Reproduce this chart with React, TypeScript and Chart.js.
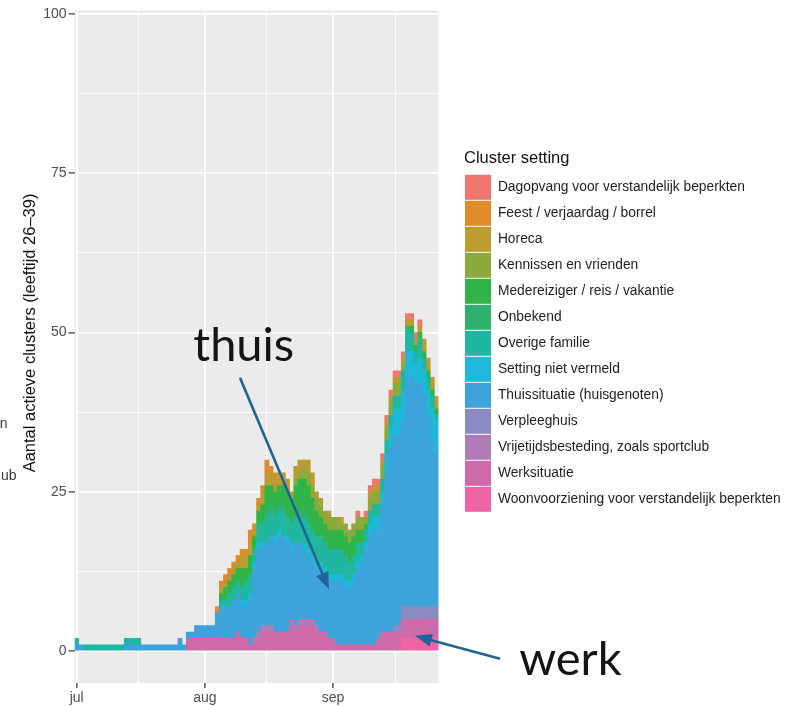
import React, { useEffect, useRef } from 'react';
import { Chart, registerables } from 'chart.js';

Chart.register(...registerables);

// ---- categories (legend order, top of stack first) ----
const settings = [
  'Dagopvang voor verstandelijk beperkten',
  'Feest / verjaardag / borrel',
  'Horeca',
  'Kennissen en vrienden',
  'Medereiziger / reis / vakantie',
  'Onbekend',
  'Overige familie',
  'Setting niet vermeld',
  'Thuissituatie (huisgenoten)',
  'Verpleeghuis',
  'Vrijetijdsbesteding, zoals sportclub',
  'Werksituatie',
  'Woonvoorziening voor verstandelijk beperkten',
];

const settingColors = [
  '#F1766F', '#E08A2A', '#BC9B30', '#8CA93C', '#31B447', '#2DB16D',
  '#20B7A0', '#1EB9D9', '#3DA3DB', '#8A8BC2', '#AF7CB7', '#CF6AA9', '#EF64A4',
];

// ---- x axis: day index 0 = 1 July ----
const xTickDays = [0, 31, 62];
const xTickLabels = ['jul', 'aug', 'sep'];
const xMinorDays = [15, 46, 77];
const yTicks = [0, 25, 50, 75, 100];
const yMinor = [12.5, 37.5, 62.5, 87.5];

// ---- series values, one per day (1 Jul .. 26 Sep) ----
const dagopvang = [
  0,0,0,0,0,0,0,0,0,0, 0,0,0,0,0,0,0,0,0,0, 0,0,0,0,0,0,0,0,0,0,
  0,0,0,0,0,0,0,0,0,0, 0,0,0,0,0,0,0,0,0,0, 0,0,0,0,0,0,0,0,0,0,
  0,0,0,0,0,0,0,0,1,0, 1,1,1,1,1,1,1,1,1,1, 1,1,1,1,0,0,0,0];
const feest = [
  0,0,0,0,0,0,0,0,0,0, 0,0,0,0,0,0,0,0,0,0, 0,0,0,0,0,0,0,0,0,0,
  0,0,0,0,1,1,1,1,1,1, 1,1,2,1,1,1,2,1,1,0, 0,0,0,0,0,0,0,0,0,0,
  0,0,0,0,0,0,0,0,0,0, 0,0,0,0,0,0,0,0,0,0, 0,0,0,0,0,0,0,0];
const horeca = [
  0,0,0,0,0,0,0,0,0,0, 0,0,0,0,0,0,0,0,0,0, 0,0,0,0,0,0,0,0,0,0,
  0,0,0,0,0,1,1,1,1,1, 2,2,2,1,1,2,2,2,2,2, 2,2,1,2,2,1,2,2,1,1,
  0,1,0,0,1,0,0,0,0,0, 0,1,1,1,1,1,1,1,1,1, 1,1,1,1,2,2,2,2];
const kennissen = [
  0,0,0,0,0,0,0,0,0,0, 0,0,0,0,0,0,0,0,0,0, 0,0,0,0,0,0,0,0,0,0,
  0,0,0,0,0,0,0,0,0,0, 0,0,0,0,0,0,0,0,0,0, 0,0,0,1,1,2,2,2,2,2,
  2,2,2,2,1,2,2,2,2,2, 1,2,2,2,2,2,2,2,2,1, 0,0,0,0,0,0,0,0];
const medereiziger = [
  0,0,0,0,0,0,0,0,0,0, 0,0,0,0,0,0,0,0,0,0, 0,0,0,0,0,0,0,0,0,0,
  0,0,0,0,0,1,2,2,2,2, 3,2,3,2,2,3,4,3,3,3, 3,4,4,5,5,5,5,5,4,3,
  3,3,3,3,3,3,3,3,2,2, 1,0,0,0,0,0,0,0,0,0, 0,1,1,1,1,1,1,1];
const onbekend = [
  0,0,0,0,0,0,0,0,0,0, 0,0,0,0,0,0,0,0,0,0, 0,0,0,0,0,0,0,0,0,0,
  0,0,0,0,0,0,0,0,0,0, 0,0,0,0,0,0,1,1,1,1, 1,0,0,0,1,1,1,0,0,0,
  0,0,0,0,0,0,0,0,0,0, 0,0,0,0,0,0,0,0,0,0, 0,0,0,0,0,0,0,0];
const overigeFamilie = [
  1,0,1,1,1,1,1,1,1,1, 1,1,1,1,1,1,0,0,0,0, 0,0,0,0,0,0,0,0,0,0,
  0,0,0,0,0,1,1,2,2,2, 2,3,3,2,3,3,4,4,3,3, 4,3,3,4,4,4,4,4,4,4,
  4,4,4,4,4,4,3,3,3,2, 2,2,2,2,2,2,2,2,2,3, 4,3,2,3,2,2,2,1];
const nietVermeld = [
  0,0,0,0,0,0,0,0,0,0, 0,0,0,0,0,0,0,0,0,0, 0,0,0,0,0,0,0,0,0,0,
  0,0,0,0,0,0,0,0,0,0, 1,1,1,1,1,1,0,0,1,1, 0,1,1,0,0,1,1,1,1,1,
  1,1,1,1,1,1,1,1,1,1, 1,2,2,2,2,3,3,4,4,5, 4,4,3,4,4,4,5,5];
const thuis = [
  1,1,0,0,0,0,0,0,0,0, 0,0,1,1,1,1,1,1,1,1, 1,1,1,1,1,2,1,1,1,2,
  2,2,2,2,4,5,5,5,6,6, 5,5,7,11,13,12,13,14,14,15, 15,14,11,13,12,11,10,9,9,10,
  9,9,9,10,10,9,9,10,12,13, 15,17,18,17,20,25,29,30,30,29, 36,36,35,35,33,30,26,24];
const verpleeghuis = [
  0,0,0,0,0,0,0,0,0,0, 0,0,0,0,0,0,0,0,0,0, 0,0,0,0,0,0,0,0,0,0,
  0,0,0,0,0,0,0,0,0,0, 0,0,0,0,0,0,0,0,0,0, 0,0,0,0,0,0,0,0,0,0,
  0,0,0,0,0,0,0,0,0,0, 0,0,0,0,0,0,0,1,1,2, 2,2,2,2,2,2,2,2];
const vrijetijd = [
  0,0,0,0,0,0,0,0,0,0, 0,0,0,0,0,0,0,0,0,0, 0,0,0,0,0,0,0,0,0,0,
  0,0,0,0,0,0,0,0,0,0, 0,0,0,1,1,1,1,1,0,0, 0,0,1,1,1,1,1,1,1,0,
  0,0,0,0,0,0,0,0,0,0, 0,0,0,0,0,0,0,0,0,0, 0,0,0,0,0,0,0,0];
const werksituatie = [
  0,0,0,0,0,0,0,0,0,0, 0,0,0,0,0,0,0,0,0,0, 0,0,0,0,0,0,0,2,2,2,
  2,2,2,2,2,2,2,2,2,3, 2,2,1,1,2,3,3,3,3,3, 3,3,4,3,4,4,4,4,3,3,
  3,2,2,1,1,1,1,1,1,1, 1,1,1,2,3,3,3,3,3,3, 3,3,3,3,3,3,3,3];
const woonvoorziening = [
  0,0,0,0,0,0,0,0,0,0, 0,0,0,0,0,0,0,0,0,0, 0,0,0,0,0,0,0,0,0,0,
  0,0,0,0,0,0,0,0,0,0, 0,0,0,0,0,0,0,0,0,0, 0,0,0,0,0,0,0,0,0,0,
  0,0,0,0,0,0,0,0,0,0, 0,0,0,0,0,0,0,0,0,2, 2,2,2,2,2,2,2,2];

const seriesByLegend = [
  dagopvang, feest, horeca, kennissen, medereiziger, onbekend, overigeFamilie,
  nietVermeld, thuis, verpleeghuis, vrijetijd, werksituatie, woonvoorziening,
];

// ---- annotations (data coordinates: day index, count) ----
const notes = [
  { text: 'thuis', day: 28.2, value: 45.5, from: [39.5, 42.9], to: [61.0, 9.7] },
  { text: 'werk', day: 107.0, value: -3.8, from: [102.4, -1.2], to: [81.8, 2.4] },
];

const FONT = '"Liberation Sans", Arial, Helvetica, sans-serif';

const isIn = (arr: number[], v: number) => arr.some((a) => Math.abs(a - v) < 1e-6);

const panelPlugin = {
  id: 'panelBg',
  beforeDraw(chart: any) {
    const { ctx, chartArea: a } = chart;
    ctx.save();
    ctx.fillStyle = '#EBEBEB';
    ctx.fillRect(a.left, a.top, a.right - a.left, a.bottom - a.top);
    ctx.restore();
  },
};

// let the legend box reach the right edge of the canvas so its labels are not clipped
const legendWidthPlugin = {
  id: 'legendWidth',
  afterLayout(chart: any) {
    const lg = chart.legend;
    if (!lg) return;
    lg.right = chart.width;
    lg.width = lg.right - lg.left;
  },
};

function drawArrow(ctx: CanvasRenderingContext2D, x1: number, y1: number, x2: number, y2: number) {
  const ang = Math.atan2(y2 - y1, x2 - x1);
  const head = 17;
  const half = 6.5;
  const bx = x2 - head * Math.cos(ang);
  const by = y2 - head * Math.sin(ang);
  ctx.beginPath();
  ctx.moveTo(x1, y1);
  ctx.lineTo(bx + 2 * Math.cos(ang), by + 2 * Math.sin(ang));
  ctx.stroke();
  ctx.beginPath();
  ctx.moveTo(x2, y2);
  ctx.lineTo(bx + half * Math.sin(ang), by - half * Math.cos(ang));
  ctx.lineTo(bx - half * Math.sin(ang), by + half * Math.cos(ang));
  ctx.closePath();
  ctx.fill();
}

const notesPlugin = {
  id: 'notes',
  afterDraw(chart: any) {
    const { ctx } = chart;
    const x = chart.scales.x;
    const y = chart.scales.y;
    ctx.save();
    for (const n of notes) {
      ctx.fillStyle = '#141414';
      ctx.font = '47px Lato, "Open Sans", sans-serif';
      ctx.textBaseline = 'alphabetic';
      ctx.textAlign = 'left';
      ctx.fillText(n.text, x.getPixelForValue(n.day), y.getPixelForValue(n.value));
      ctx.strokeStyle = '#1E6596';
      ctx.fillStyle = '#1E6596';
      ctx.lineWidth = 2.6;
      drawArrow(
        ctx,
        x.getPixelForValue(n.from[0]), y.getPixelForValue(n.from[1]),
        x.getPixelForValue(n.to[0]), y.getPixelForValue(n.to[1]),
      );
    }
    // clipped fragments of a neighbouring legend at the far left
    ctx.fillStyle = '#3a3a3a';
    ctx.font = '14px ' + FONT;
    ctx.textAlign = 'right';
    ctx.fillText('n', 7.5, 428);
    ctx.fillText('lub', 16.5, 480);
    ctx.restore();
  },
};

export default function App() {
  const ref = useRef<HTMLCanvasElement>(null);

  useEffect(() => {
    if (!ref.current) return;
    const order = seriesByLegend.map((_, i) => i).reverse(); // bottom of stack first
    const datasets = order.map((i) => ({
      label: settings[i],
      data: seriesByLegend[i].map((v, d) => ({ x: d, y: v > 0 ? v : null })),
      backgroundColor: settingColors[i],
      borderWidth: 0,
      barPercentage: 1,
      categoryPercentage: 1,
    }));

    const chart = new Chart(ref.current, {
      type: 'bar',
      data: { datasets } as any,
      plugins: [panelPlugin, legendWidthPlugin, notesPlugin],
      options: {
        responsive: false,
        animation: false,
        devicePixelRatio: 1,
        layout: { padding: { left: 0, top: 8, right: 265, bottom: 0 } },
        plugins: {
          tooltip: { enabled: false },
          legend: {
            position: 'right',
            align: 'start',
            reverse: true,
            maxWidth: 60,
            title: {
              display: true,
              text: 'Cluster setting',
              position: 'start',
              color: '#111',
              font: { family: FONT, size: 16.5 },
              padding: { top: 142, bottom: 4 } as any,
            },
            labels: {
              boxWidth: 26,
              boxHeight: 25,
              padding: 1,
              color: '#1e1e1e',
              font: { family: FONT, size: 13.8 },
            },
          },
        },
        scales: {
          x: {
            type: 'linear',
            stacked: true,
            offset: false,
            min: -0.5,
            max: 87.5,
            border: { display: false },
            afterBuildTicks: (s: any) => {
              s.ticks = [...xTickDays, ...xMinorDays].sort((a, b) => a - b).map((v) => ({ value: v }));
            },
            afterFit: (s: any) => { s.height = 23; },
            ticks: {
              autoSkip: false,
              maxRotation: 0,
              padding: 2,
              color: '#4f4f4f',
              font: { family: FONT, size: 14 },
              callback: (v: any) => {
                const k = xTickDays.indexOf(Number(v));
                return k >= 0 ? xTickLabels[k] : '';
              },
            },
            grid: {
              offset: false,
              color: '#FFFFFF',
              lineWidth: (c: any) => (isIn(xTickDays, c.tick?.value) ? 1.8 : 0.9),
              tickColor: (c: any) => (isIn(xTickDays, c.tick?.value) ? '#333333' : 'rgba(0,0,0,0)'),
              tickLength: 5,
              tickWidth: 1.2,
            },
          },
          y: {
            type: 'linear',
            stacked: true,
            min: -5,
            max: 100.58,
            border: { display: false },
            afterBuildTicks: (s: any) => {
              s.ticks = [...yTicks, ...yMinor].sort((a, b) => a - b).map((v) => ({ value: v }));
            },
            afterFit: (s: any) => { s.width = 74.6; },
            ticks: {
              padding: 2,
              color: '#4f4f4f',
              font: { family: FONT, size: 14 },
              callback: (v: any) => (isIn(yTicks, Number(v)) ? String(v) : ''),
            },
            grid: {
              color: '#FFFFFF',
              lineWidth: (c: any) => (isIn(yTicks, c.tick?.value) ? 1.8 : 0.9),
              tickColor: (c: any) => (isIn(yTicks, c.tick?.value) ? '#333333' : 'rgba(0,0,0,0)'),
              tickLength: 6,
              tickWidth: 1.2,
            },
            title: {
              display: true,
              text: '\u00a0\u00a0\u00a0\u00a0\u00a0\u00a0Aantal actieve clusters (leeftijd 26\u201339)',
              color: '#111',
              font: { family: FONT, size: 16.5 },
              padding: { top: 21, bottom: 0 },
            },
          },
          yR: {
            type: 'linear',
            position: 'right',
            display: true,
            border: { display: false },
            grid: { display: false, drawTicks: false },
            ticks: { display: false },
            afterFit: (s: any) => { s.width = 25.5; },
          },
        },
      } as any,
    });
    return () => chart.destroy();
  }, []);

  return (
    <div style={{ position: 'absolute', left: 0, top: 0, width: 789, height: 706, background: '#ffffff' }}>
      <canvas ref={ref} width={789} height={706} style={{ display: 'block', width: 789, height: 706 }} />
    </div>
  );
}
